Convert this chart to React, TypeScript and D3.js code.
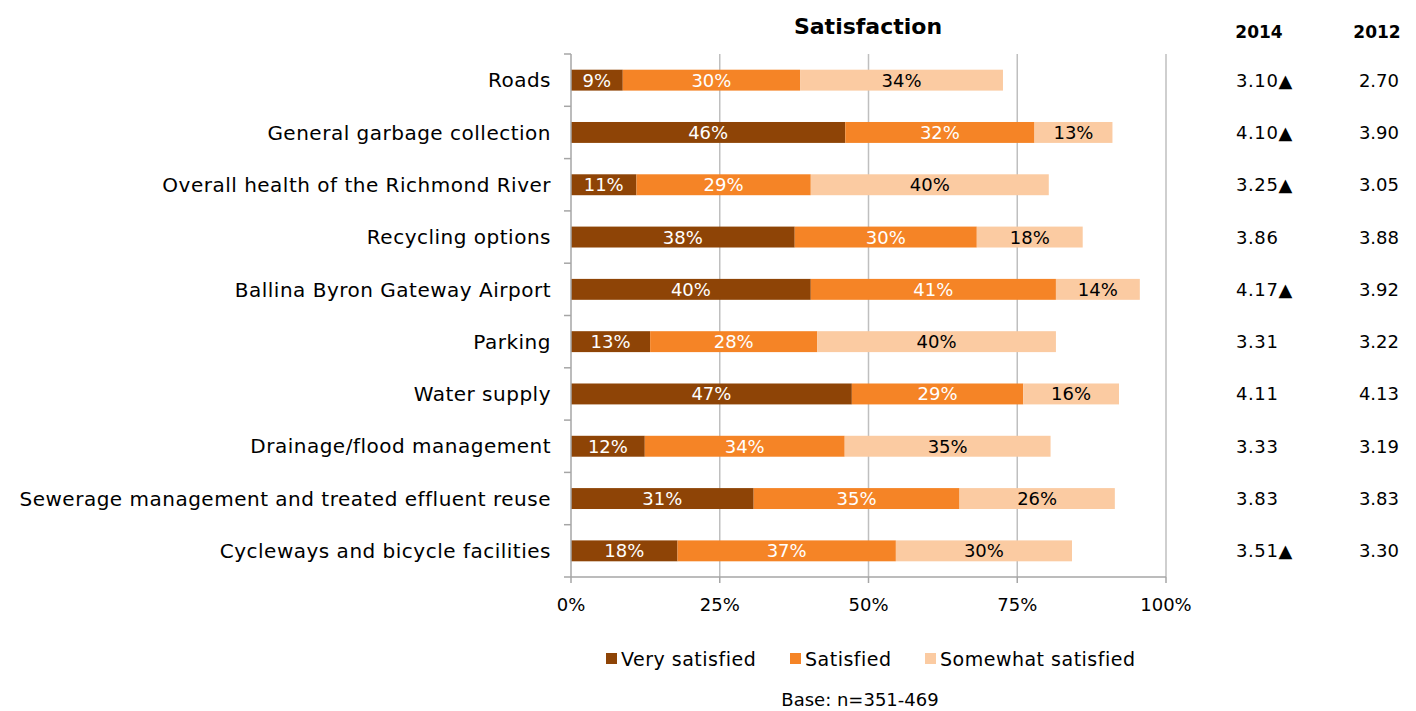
import React from "react";
import * as d3 from "d3";

const categories = [
  "Roads",
  "General garbage collection",
  "Overall health of the Richmond River",
  "Recycling options",
  "Ballina Byron Gateway Airport",
  "Parking",
  "Water supply",
  "Drainage/flood management",
  "Sewerage management and treated effluent reuse",
  "Cycleways and bicycle facilities",
];
const verySatisfied = [8.7, 46.1, 11.0, 37.6, 40.3, 13.3, 47.2, 12.4, 30.7, 17.9];
const satisfied = [29.8, 31.8, 29.3, 30.6, 41.2, 28.1, 28.8, 33.6, 34.6, 36.7];
const somewhatSatisfied = [34.1, 13.1, 40.0, 17.8, 14.1, 40.1, 16.1, 34.6, 26.1, 29.6];
const verySatisfiedLabels = ["9%", "46%", "11%", "38%", "40%", "13%", "47%", "12%", "31%", "18%"];
const satisfiedLabels = ["30%", "32%", "29%", "30%", "41%", "28%", "29%", "34%", "35%", "37%"];
const somewhatSatisfiedLabels = ["34%", "13%", "40%", "18%", "14%", "40%", "16%", "35%", "26%", "30%"];
const score2014 = ["3.10", "4.10", "3.25", "3.86", "4.17", "3.31", "4.11", "3.33", "3.83", "3.51"];
const up2014 = [true, true, true, false, true, false, false, false, false, true];
const score2012 = ["2.70", "3.90", "3.05", "3.88", "3.92", "3.22", "4.13", "3.19", "3.83", "3.30"];
const xTicks = [0, 25, 50, 75, 100];
const seriesNames = ["Very satisfied", "Satisfied", "Somewhat satisfied"];
const seriesColors = ["#8E4406", "#F58426", "#FBCBA2"];
const labelColors = ["#FFFFFF", "#FFFFFF", "#000000"];

const FONT = "'DejaVu Sans', sans-serif";

export default function App() {
  const W = 1416;
  const H = 711;
  const top = 54;
  const bottom = 577;
  const x = d3.scaleLinear().domain([0, 100]).range([571, 1166]);
  const y = d3.scaleBand<string>().domain(categories).range([top, bottom]).paddingInner(0.6).paddingOuter(0.3);
  const table = categories.map((c, i) => ({
    cat: c,
    s0: verySatisfied[i],
    s1: satisfied[i],
    s2: somewhatSatisfied[i],
  }));
  const labels = [verySatisfiedLabels, satisfiedLabels, somewhatSatisfiedLabels];
  const stack = d3.stack<any>().keys(["s0", "s1", "s2"]);
  const series = stack(table);
  const step = y.step();

  return (
    <svg width={W} height={H} style={{ display: "block", position: "absolute", left: 0, top: 0 }} fontFamily={FONT}>
      <rect width={W} height={H} fill="#fff" />
      {xTicks.filter((t) => t > 0).map((t) => (
        <line key={t} x1={x(t)} x2={x(t)} y1={top} y2={bottom} stroke="#BFBFBF" strokeWidth={1.5} />
      ))}
      {series.map((s, si) =>
        s.map((d, i) => (
          <rect
            key={si + "-" + i}
            x={x(d[0])}
            y={y(categories[i])!}
            width={x(d[1]) - x(d[0])}
            height={y.bandwidth()}
            fill={seriesColors[si]}
          />
        ))
      )}
      {series.map((s, si) =>
        s.map((d, i) => (
          <text
            key={"l" + si + "-" + i}
            x={(x(d[0]) + x(d[1])) / 2}
            y={y(categories[i])! + y.bandwidth() / 2}
            dy="0.36em"
            textAnchor="middle"
            fontSize={18}
            fill={labelColors[si]}
          >
            {labels[si][i]}
          </text>
        ))
      )}
      <line x1={571} x2={571} y1={top} y2={bottom} stroke="#A6A6A6" strokeWidth={1.5} />
      {d3.range(categories.length + 1).map((k) => (
        <line key={"yt" + k} x1={564} x2={571} y1={top + k * step} y2={top + k * step} stroke="#A6A6A6" strokeWidth={1.5} />
      ))}
      {categories.map((c) => (
        <text key={"c" + c} x={551} y={y(c)! + y.bandwidth() / 2} dy="0.36em" textAnchor="end" fontSize={20} letterSpacing={0.5} fill="#000">
          {c}
        </text>
      ))}
      <line x1={571} x2={1166} y1={bottom} y2={bottom} stroke="#A6A6A6" strokeWidth={1.5} />
      {xTicks.map((t) => (
        <g key={"xt" + t}>
          <line x1={x(t)} x2={x(t)} y1={bottom} y2={bottom + 6} stroke="#A6A6A6" strokeWidth={1.5} />
          <text x={x(t)} y={605} dy="0.36em" textAnchor="middle" fontSize={18} fill="#000">
            {t + "%"}
          </text>
        </g>
      ))}
      <text x={868} y={26} dy="0.36em" textAnchor="middle" fontSize={22} fontWeight="bold" fill="#000">
        Satisfaction
      </text>
      <text x={1259} y={32} dy="0.36em" textAnchor="middle" fontSize={17} fontWeight="bold" fill="#000">2014</text>
      <text x={1377} y={32} dy="0.36em" textAnchor="middle" fontSize={17} fontWeight="bold" fill="#000">2012</text>
      {categories.map((c, i) => (
        <g key={"sc" + i}>
          <text x={1236} y={y(c)! + y.bandwidth() / 2} dy="0.36em" textAnchor="start" fontSize={18} letterSpacing={0.6} fill="#000">
            {score2014[i] + (up2014[i] ? "▲" : "")}
          </text>
          <text x={1399} y={y(c)! + y.bandwidth() / 2} dy="0.36em" textAnchor="end" fontSize={18} fill="#000">
            {score2012[i]}
          </text>
        </g>
      ))}
      {seriesNames.map((n, i) => {
        const lx = [606, 790, 925][i];
        return (
          <g key={"lg" + i}>
            <rect x={lx} y={653} width={11} height={11} fill={seriesColors[i]} />
            <text x={lx + 15} y={659} dy="0.36em" fontSize={19} letterSpacing={0.5} fill="#000">{n}</text>
          </g>
        );
      })}
      <text x={860} y={700} dy="0.36em" textAnchor="middle" fontSize={18} fill="#000">Base: n=351-469</text>
    </svg>
  );
}
